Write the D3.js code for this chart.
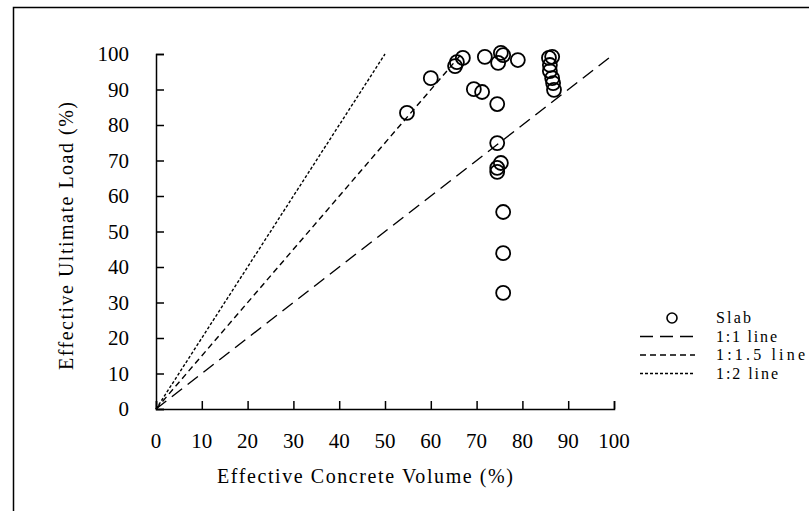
<!DOCTYPE html>
<html>
<head>
    <script src="https://d3js.org/d3.v7.min.js"></script>
    <style>
        body { margin: 0; background: #fff; }
        text { font-family: "Liberation Serif", "Times New Roman", serif; fill: #000; }
    </style>
</head>
<body>
	<svg id="chart" width="809" height="511"></svg>
	<script>
		// slab test results
		var volume = [54.8, 60.0, 65.3, 65.7, 67.0, 71.8, 74.7, 75.3, 75.8, 79.0,
		              69.4, 71.2, 74.5, 74.5, 74.5, 74.5, 75.3, 75.8, 75.8, 75.8,
		              85.8, 86.5, 86.0, 86.0, 86.5, 86.7, 86.9];
		var load = [83.4, 93.2, 96.6, 97.7, 98.9, 99.2, 97.5, 100.3, 99.7, 98.3,
		            90.1, 89.3, 85.9, 74.9, 66.8, 67.9, 69.3, 55.5, 43.9, 32.7,
		            98.9, 99.2, 96.9, 95.2, 93.2, 91.8, 89.9];

		var ticks = [0, 10, 20, 30, 40, 50, 60, 70, 80, 90, 100];
		var lineNames = ["1:1 line", "1:1.5 line", "1:2 line"];
		var lineEndX = [100, 66.7, 50];
		var lineDash = ["13,7", "6,4", "3,2"];
		var legendWidth = [61, 89, 62];

		var svg = d3.select("#chart");

		// outer frame
		svg.append("rect")
			.attr("x", 13.5).attr("y", 7.5)
			.attr("width", 810).attr("height", 520)
			.attr("fill", "none").attr("stroke", "#000").attr("stroke-width", 1.5);

		var x = d3.scaleLinear().domain([0, 100]).range([156, 614]);
		var y = d3.scaleLinear().domain([0, 100]).range([409, 54]);

		// axes with inward ticks
		svg.append("g")
			.attr("transform", "translate(0," + y(0) + ")")
			.call(d3.axisTop(x).tickValues(ticks).tickSize(8).tickFormat(""));
		svg.append("g")
			.attr("transform", "translate(" + x(0) + ",0)")
			.call(d3.axisRight(y).tickValues(ticks).tickSize(8).tickFormat(""));
		svg.selectAll(".domain, .tick line").attr("stroke", "#000").attr("stroke-width", 1.5);

		svg.append("g").selectAll("text")
			.data(ticks).enter().append("text")
			.attr("x", function(d) { return x(d); })
			.attr("y", 448)
			.attr("text-anchor", "middle")
			.style("font-size", "21px")
			.text(function(d) { return d; });

		svg.append("g").selectAll("text")
			.data(ticks).enter().append("text")
			.attr("x", 129)
			.attr("y", function(d) { return y(d) + 7; })
			.attr("text-anchor", "end")
			.style("font-size", "21px")
			.text(function(d) { return d; });

		svg.append("text")
			.attr("x", 217).attr("y", 483)
			.attr("textLength", 296).attr("lengthAdjust", "spacing")
			.style("font-size", "20px")
			.text("Effective Concrete Volume (%)");

		svg.append("text")
			.attr("transform", "translate(73,370) rotate(-90)")
			.attr("textLength", 268).attr("lengthAdjust", "spacing")
			.style("font-size", "20px")
			.text("Effective Ultimate Load (%)");

		// reference lines
		svg.append("g").selectAll("line")
			.data(lineEndX).enter().append("line")
			.attr("x1", x(0)).attr("y1", y(0))
			.attr("x2", function(d) { return x(d); })
			.attr("y2", y(100))
			.attr("stroke", "#000").attr("stroke-width", 1.4)
			.attr("stroke-dasharray", function(d, i) { return lineDash[i]; });

		// points
		svg.append("g").selectAll("circle")
			.data(volume).enter().append("circle")
			.attr("cx", function(d) { return x(d); })
			.attr("cy", function(d, i) { return y(load[i]); })
			.attr("r", 7)
			.attr("fill", "none")
			.attr("stroke", "#000").attr("stroke-width", 1.8);

		// legend
		var lg = svg.append("g");
		lg.append("circle").attr("cx", 672).attr("cy", 318).attr("r", 5)
			.attr("fill", "none").attr("stroke", "#000").attr("stroke-width", 1.6);
		lg.append("text").attr("x", 716).attr("y", 323)
			.attr("textLength", 35).attr("lengthAdjust", "spacing")
			.style("font-size", "16px").text("Slab");
		lg.selectAll("line.lg")
			.data(lineNames).enter().append("line")
			.attr("class", "lg")
			.attr("x1", 640).attr("x2", 695)
			.attr("y1", function(d, i) { return 336.5 + i * 18.5; })
			.attr("y2", function(d, i) { return 336.5 + i * 18.5; })
			.attr("stroke", "#000").attr("stroke-width", 1.5)
			.attr("stroke-dasharray", function(d, i) { return lineDash[i]; });
		lg.selectAll("text.lg")
			.data(lineNames).enter().append("text")
			.attr("class", "lg")
			.attr("x", 716)
			.attr("y", function(d, i) { return 341.5 + i * 18.5; })
			.attr("textLength", function(d, i) { return legendWidth[i]; })
			.attr("lengthAdjust", "spacing")
			.style("font-size", "16px")
			.text(function(d) { return d; });
	</script>
</body>
</html>
